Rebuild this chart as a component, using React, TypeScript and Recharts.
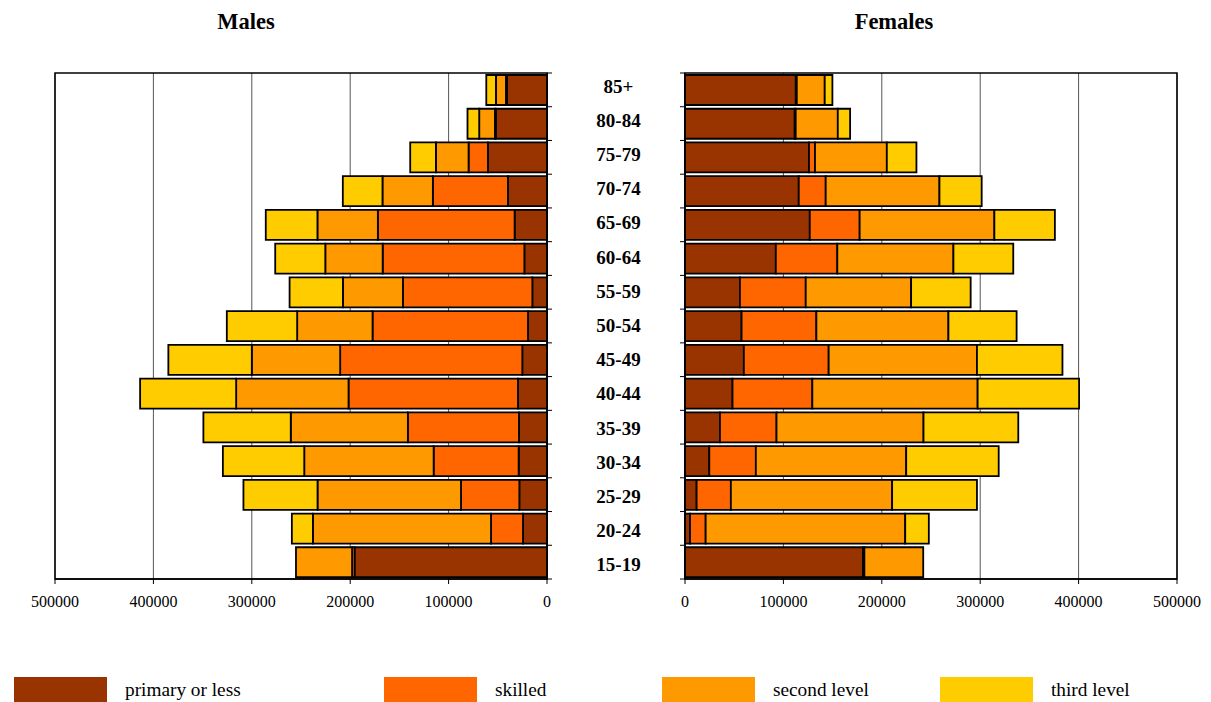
import { BarChart, Bar, XAxis, YAxis, CartesianGrid, ReferenceArea } from "recharts";

// age groups, oldest at the top
const AGES = ["85+", "80-84", "75-79", "70-74", "65-69", "60-64", "55-59", "50-54", "45-49", "40-44", "35-39", "30-34", "25-29", "20-24", "15-19"];

const MALE_PRIMARY = [40700, 51900, 60000, 39700, 32900, 23000, 14900, 19300, 25100, 29500, 28500, 28800, 28100, 24400, 195600];
const MALE_SKILLED = [1000, 1000, 19700, 76300, 139000, 144000, 131500, 158000, 185100, 172200, 112900, 86400, 59300, 32500, 2500];
const MALE_SECOND = [10200, 16000, 33200, 51200, 61400, 58300, 61000, 76600, 89800, 114200, 119000, 131500, 145800, 181000, 57000];
const MALE_THIRD = [9800, 11900, 26100, 40300, 52500, 50900, 54200, 71500, 84800, 97600, 88800, 82700, 75300, 21400, 0];

const FEMALE_PRIMARY = [112600, 111500, 126000, 115600, 126800, 92300, 55800, 57500, 59800, 48300, 35500, 24700, 11800, 5100, 180800];
const FEMALE_SKILLED = [1000, 1000, 6100, 27400, 50700, 62500, 66900, 76000, 86200, 81100, 57500, 47300, 34800, 15900, 1500];
const FEMALE_SECOND = [28400, 42800, 73000, 115600, 136900, 118000, 107100, 134200, 150700, 168000, 149400, 152800, 163900, 202800, 59800];
const FEMALE_THIRD = [7800, 12500, 30100, 42900, 61500, 60800, 60500, 69300, 86900, 103100, 96300, 94000, 86200, 24000, 0];

const X_TICKS = [0, 100000, 200000, 300000, 400000, 500000];

const SERIES = [
  { key: "primary", name: "primary or less", color: "#993300" },
  { key: "skilled", name: "skilled", color: "#FF6600" },
  { key: "second", name: "second level", color: "#FF9900" },
  { key: "third", name: "third level", color: "#FFCC00" },
];

const FONT = "'Liberation Serif', 'Times New Roman', serif";

const buildRows = (p: number[], s: number[], sec: number[], t: number[]) =>
  AGES.map((age, i) => ({ age, primary: p[i], skilled: s[i], second: sec[i], third: t[i] }));

const maleRows = buildRows(MALE_PRIMARY, MALE_SKILLED, MALE_SECOND, MALE_THIRD);
const femaleRows = buildRows(FEMALE_PRIMARY, FEMALE_SKILLED, FEMALE_SECOND, FEMALE_THIRD);

// tick marks sit on the boundaries between age bands, not on their centres
function boundaryLines(x: number, y: number, half: number, last: boolean, dir: number) {
  return (
    <>
      <line x1={x} x2={x + dir * 5} y1={y - half} y2={y - half} stroke="#000" strokeWidth={1} />
      {last && <line x1={x} x2={x + dir * 5} y1={y + half} y2={y + half} stroke="#000" strokeWidth={1} />}
    </>
  );
}

function AgeTick(props: any) {
  const { x, y, payload, index } = props;
  const half = payload?.offset || 16.87;
  const last = payload?.value === AGES[AGES.length - 1];
  return (
    <g>
      {boundaryLines(x, y, half, last, 1)}
      <text
        x={x + 71.5}
        y={y + (index - 7) * 0.48 - 0.5}
        textAnchor="middle"
        dominantBaseline="central"
        fontFamily={FONT}
        fontWeight="bold"
        fontSize={19}
        fill="#000"
      >
        {payload.value}
      </text>
    </g>
  );
}

function BoundaryTick(props: any) {
  const { x, y, payload } = props;
  const half = payload?.offset || 16.87;
  const last = payload?.value === AGES[AGES.length - 1];
  return <g>{boundaryLines(x, y, half, last, -1)}</g>;
}

const xTickStyle = { fontSize: 16, fill: "#000", fontFamily: FONT };

function Bars() {
  return SERIES.map((s) => (
    <Bar
      key={s.key}
      dataKey={s.key}
      name={s.name}
      stackId="edu"
      fill={s.color}
      stroke="#000"
      strokeWidth={1.8}
      isAnimationActive={false}
    />
  ));
}

function MalesChart() {
  return (
    <BarChart
      width={685}
      height={640}
      data={maleRows}
      layout="vertical"
      barCategoryGap={2}
      margin={{ top: 73, right: 0, bottom: 31, left: 55 }}
    >
      <CartesianGrid horizontal={false} stroke="#555" />
      <XAxis
        type="number"
        domain={[0, 500000]}
        ticks={X_TICKS}
        reversed
        height={30}
        tickSize={5}
        tickMargin={12}
        tick={xTickStyle}
        axisLine={{ stroke: "#000", strokeWidth: 1.5 }}
        tickLine={{ stroke: "#000" }}
      />
      <YAxis
        type="category"
        dataKey="age"
        orientation="right"
        width={138}
        tickSize={0}
        tickMargin={0}
        tickLine={false}
        tick={<AgeTick />}
        interval={0}
        axisLine={{ stroke: "#000", strokeWidth: 1.5 }}
      />
      {Bars()}
      <ReferenceArea x1={0} x2={500000} fill="none" fillOpacity={0} stroke="#000" strokeWidth={1.5} />
    </BarChart>
  );
}

function FemalesChart() {
  return (
    <BarChart
      width={536}
      height={640}
      data={femaleRows}
      layout="vertical"
      barCategoryGap={2}
      margin={{ top: 73, right: 34, bottom: 31, left: 0 }}
    >
      <CartesianGrid horizontal={false} stroke="#555" />
      <XAxis
        type="number"
        domain={[0, 500000]}
        ticks={X_TICKS}
        height={30}
        tickSize={5}
        tickMargin={12}
        tick={xTickStyle}
        axisLine={{ stroke: "#000", strokeWidth: 1.5 }}
        tickLine={{ stroke: "#000" }}
      />
      <YAxis
        type="category"
        dataKey="age"
        width={10}
        tickSize={0}
        tickMargin={0}
        tickLine={false}
        tick={<BoundaryTick />}
        interval={0}
        axisLine={{ stroke: "#000", strokeWidth: 1.5 }}
      />
      {Bars()}
      <ReferenceArea x1={0} x2={500000} fill="none" fillOpacity={0} stroke="#000" strokeWidth={1.5} />
    </BarChart>
  );
}

const LEGEND_X = [14, 384, 662, 940];

export default function App() {
  const title = { position: "absolute" as const, width: 200, textAlign: "center" as const, fontFamily: FONT, fontWeight: "bold" as const, fontSize: 22.5, lineHeight: "22px", top: 11 };
  return (
    <div style={{ position: "absolute", left: 0, top: 0, width: 1211, height: 702, background: "#fff", overflow: "hidden" }}>
      <div style={{ ...title, left: 146 }}>Males</div>
      <div style={{ ...title, left: 794 }}>Females</div>
      <div style={{ position: "absolute", left: 0, top: 0 }}>
        <MalesChart />
      </div>
      <div style={{ position: "absolute", left: 675, top: 0 }}>
        <FemalesChart />
      </div>
      {SERIES.map((s, i) => (
        <div key={s.key}>
          <div style={{ position: "absolute", left: LEGEND_X[i], top: 677, width: 93, height: 25, background: s.color }} />
          <div style={{ position: "absolute", left: LEGEND_X[i] + 111, top: 680, fontFamily: FONT, fontSize: 19.3, lineHeight: "19px", color: "#000", whiteSpace: "nowrap" }}>
            {s.name}
          </div>
        </div>
      ))}
    </div>
  );
}
